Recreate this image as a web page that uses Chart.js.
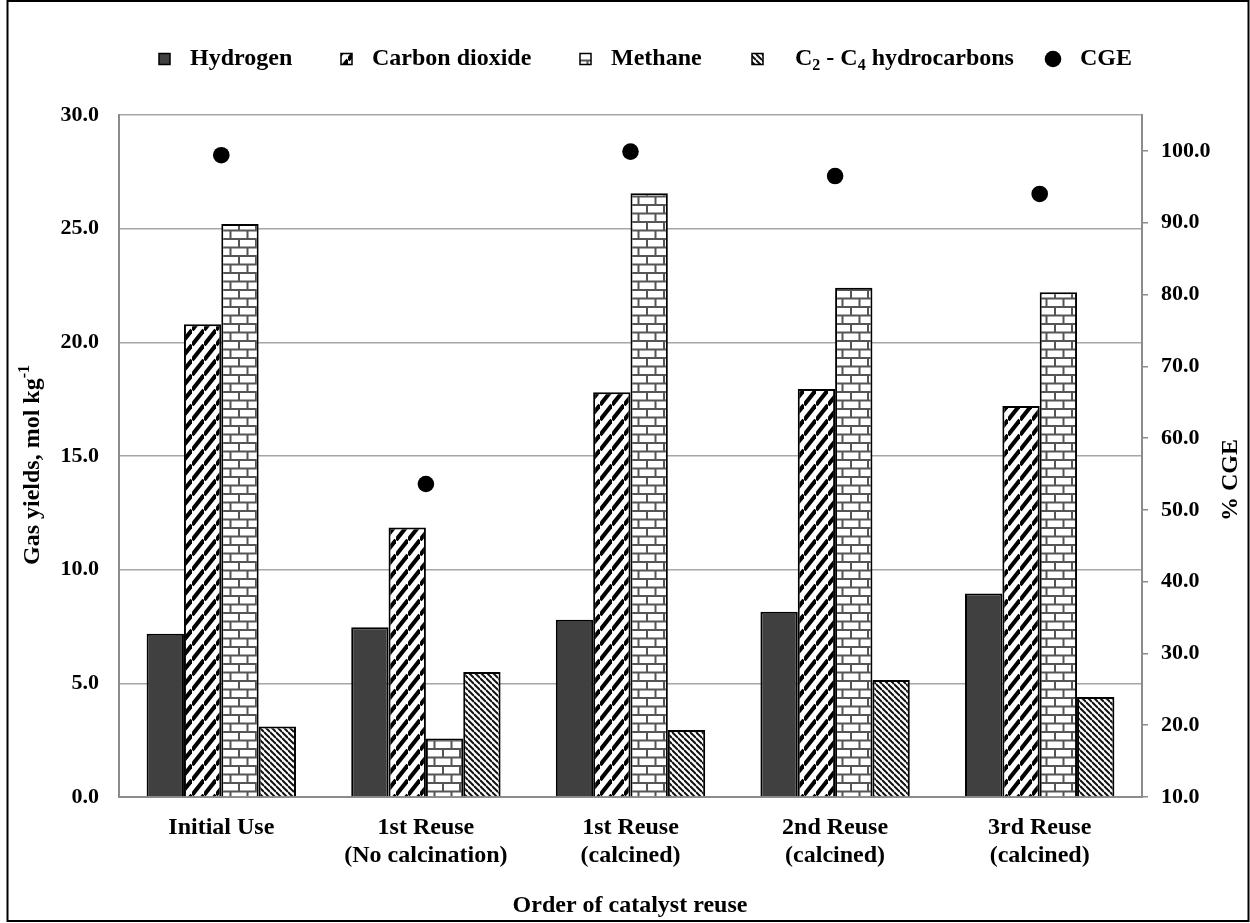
<!DOCTYPE html>
<html><head><meta charset="utf-8">
<script src="https://cdn.jsdelivr.net/npm/chart.js@4.4.1/dist/chart.umd.min.js"></script>
<style>html,body{margin:0;padding:0;background:#fff;}</style>
</head><body>
<canvas id="c" width="1250" height="923"></canvas>
<script>
const categories = [["Initial Use"], ["1st Reuse", "(No calcination)"], ["1st Reuse", "(calcined)"], ["2nd Reuse", "(calcined)"], ["3rd Reuse", "(calcined)"]];
const hydrogen = [7.18, 7.47, 7.8, 8.15, 8.95];
const carbonDioxide = [20.8, 11.85, 17.8, 17.95, 17.2];
const methane = [25.2, 2.57, 26.56, 22.4, 22.2];
const c2c4 = [3.1, 5.5, 2.95, 5.15, 4.4];
const cge = [99.4, 53.6, 99.9, 96.5, 94.0];
const leftTicks = [0, 5, 10, 15, 20, 25, 30];
const rightTicks = [10, 20, 30, 40, 50, 60, 70, 80, 90, 100];

const FONT = "'Liberation Serif', 'Times New Roman', serif";

function makeTile(w, h, draw) {
  const t = document.createElement('canvas');
  t.width = w; t.height = h;
  const g = t.getContext('2d');
  g.fillStyle = '#fff'; g.fillRect(0, 0, w, h);
  draw(g, w, h);
  return document.getElementById('c').getContext('2d').createPattern(t, 'repeat');
}
const patCO2 = makeTile(12, 15, (g, w, h) => {
  g.strokeStyle = '#000'; g.lineWidth = 4.2;
  for (let k = -1; k <= 1; k++) { g.beginPath(); g.moveTo(0, h + k * h); g.lineTo(w, k * h); g.stroke(); }
});
const patC2 = makeTile(6, 6, (g, w, h) => {
  g.strokeStyle = '#111'; g.lineWidth = 2;
  for (let k = -1; k <= 1; k++) { g.beginPath(); g.moveTo(0, k * h); g.lineTo(w, h + k * h); g.stroke(); }
});
const patCH4 = makeTile(17, 17, (g, w, h) => {
  g.strokeStyle = '#555'; g.lineWidth = 2;
  g.beginPath();
  g.moveTo(0, 1); g.lineTo(w, 1);
  g.moveTo(0, 9.5); g.lineTo(w, 9.5);
  g.moveTo(1, 1); g.lineTo(1, 9.5);
  g.moveTo(9.5, 9.5); g.lineTo(9.5, 17);
  g.stroke();
});
const H2COLOR = '#404040';

const legendItems = [
  { type: 'box', fill: H2COLOR, bx: 159, tx: 190, parts: [['Hydrogen', 0]] },
  { type: 'box', fill: patCO2, bx: 341, tx: 372, parts: [['Carbon dioxide', 0]] },
  { type: 'box', fill: patCH4, bx: 580, tx: 611, parts: [['Methane', 0]] },
  { type: 'box', fill: patC2, bx: 752, tx: 795, parts: [['C', 0], ['2', 1], [' - C', 0], ['4', 1], [' hydrocarbons', 0]] },
  { type: 'dot', fill: '#000', bx: 1053, tx: 1080, parts: [['CGE', 0]] }
];

const decorPlugin = {
  id: 'decor',
  afterDraw(chart) {
    const ctx = chart.ctx;
    ctx.save();
    ctx.strokeStyle = '#000'; ctx.lineWidth = 2;
    ctx.strokeRect(7.5, 1, 1241, 920);
    const y = 59;
    ctx.textBaseline = 'middle';
    for (const it of legendItems) {
      if (it.type === 'box') {
        ctx.fillStyle = it.fill;
        ctx.fillRect(it.bx, y - 5.5, 11, 11);
        ctx.strokeStyle = '#000'; ctx.lineWidth = 1.5;
        ctx.strokeRect(it.bx, y - 5.5, 11, 11);
      } else {
        ctx.fillStyle = '#000';
        ctx.beginPath(); ctx.arc(it.bx, y, 8.3, 0, Math.PI * 2); ctx.fill();
      }
      let tx = it.tx;
      ctx.fillStyle = '#000';
      for (const [s, sub] of it.parts) {
        if (sub) {
          ctx.font = 'bold 16px ' + FONT;
          ctx.fillText(s, tx, y + 7);
        } else {
          ctx.font = 'bold 24px ' + FONT;
          ctx.fillText(s, tx, y);
        }
        tx += ctx.measureText(s).width;
      }
    }
    ctx.save();
    ctx.translate(33, 465);
    ctx.rotate(-Math.PI / 2);
    const main = 'Gas yields, mol kg';
    ctx.font = 'bold 24px ' + FONT;
    const w1 = ctx.measureText(main).width;
    ctx.font = 'bold 16px ' + FONT;
    const w2 = ctx.measureText('-1').width;
    const start = -(w1 + w2) / 2;
    ctx.textAlign = 'left';
    ctx.font = 'bold 24px ' + FONT;
    ctx.fillText(main, start, 0);
    ctx.font = 'bold 16px ' + FONT;
    ctx.fillText('-1', start + w1, -8);
    ctx.restore();
    ctx.save();
    ctx.translate(1231, 480);
    ctx.rotate(-Math.PI / 2);
    ctx.font = 'bold 24px ' + FONT;
    ctx.textAlign = 'center';
    ctx.fillText('% CGE', 0, 0);
    ctx.restore();
    ctx.font = 'bold 24px ' + FONT;
    ctx.textAlign = 'center';
    ctx.fillText('Order of catalyst reuse', 630, 906);
    ctx.restore();
  }
};

const barCommon = { borderColor: '#000', borderWidth: 2, yAxisID: 'y', categoryPercentage: 0.73, barPercentage: 1.0, order: 2 };

new Chart(document.getElementById('c'), {
  type: 'bar',
  data: {
    labels: categories,
    datasets: [
      Object.assign({ label: 'Hydrogen', data: hydrogen, backgroundColor: H2COLOR }, barCommon),
      Object.assign({ label: 'Carbon dioxide', data: carbonDioxide, backgroundColor: patCO2 }, barCommon),
      Object.assign({ label: 'Methane', data: methane, backgroundColor: patCH4 }, barCommon),
      Object.assign({ label: 'C2 - C4 hydrocarbons', data: c2c4, backgroundColor: patC2 }, barCommon),
      { type: 'line', label: 'CGE', data: cge, yAxisID: 'y1', showLine: false, pointRadius: 8.3, pointBackgroundColor: '#000', pointBorderColor: '#000', pointBorderWidth: 0, order: 1 }
    ]
  },
  options: {
    responsive: false,
    animation: false,
    devicePixelRatio: 1,
    layout: { padding: { top: 115, left: 0, right: 0, bottom: 0 } },
    plugins: { legend: { display: false }, tooltip: { enabled: false } },
    scales: {
      x: {
        afterFit: s => { s.height = 126; },
        grid: { display: true, drawOnChartArea: false, drawTicks: false },
        border: { color: '#8c8c8c', width: 2 },
        ticks: { color: '#000', font: { family: FONT, size: 24, weight: 'bold', lineHeight: 1.2 }, padding: 16, maxRotation: 0 }
      },
      y: {
        position: 'left',
        min: 0, max: 30,
        afterFit: s => { s.width = 119; },
        afterBuildTicks: s => { s.ticks = leftTicks.map(v => ({ value: v })); },
        grid: { color: '#a6a6a6', lineWidth: 1.5, drawTicks: false },
        border: { color: '#8c8c8c', width: 2 },
        ticks: { color: '#000', font: { family: FONT, size: 22, weight: 'bold' }, padding: 20, callback: v => Number(v).toFixed(1) }
      },
      y1: {
        position: 'right',
        min: 10, max: 105,
        afterFit: s => { s.width = 108; },
        afterBuildTicks: s => { s.ticks = rightTicks.map(v => ({ value: v })); },
        grid: { drawOnChartArea: false, drawTicks: true, tickLength: 6, color: '#8c8c8c', lineWidth: 1.5 },
        border: { color: '#8c8c8c', width: 2 },
        ticks: { color: '#000', font: { family: FONT, size: 22, weight: 'bold' }, padding: 13, callback: v => Number(v).toFixed(1) }
      }
    }
  },
  plugins: [decorPlugin]
});
</script>
</body></html>
